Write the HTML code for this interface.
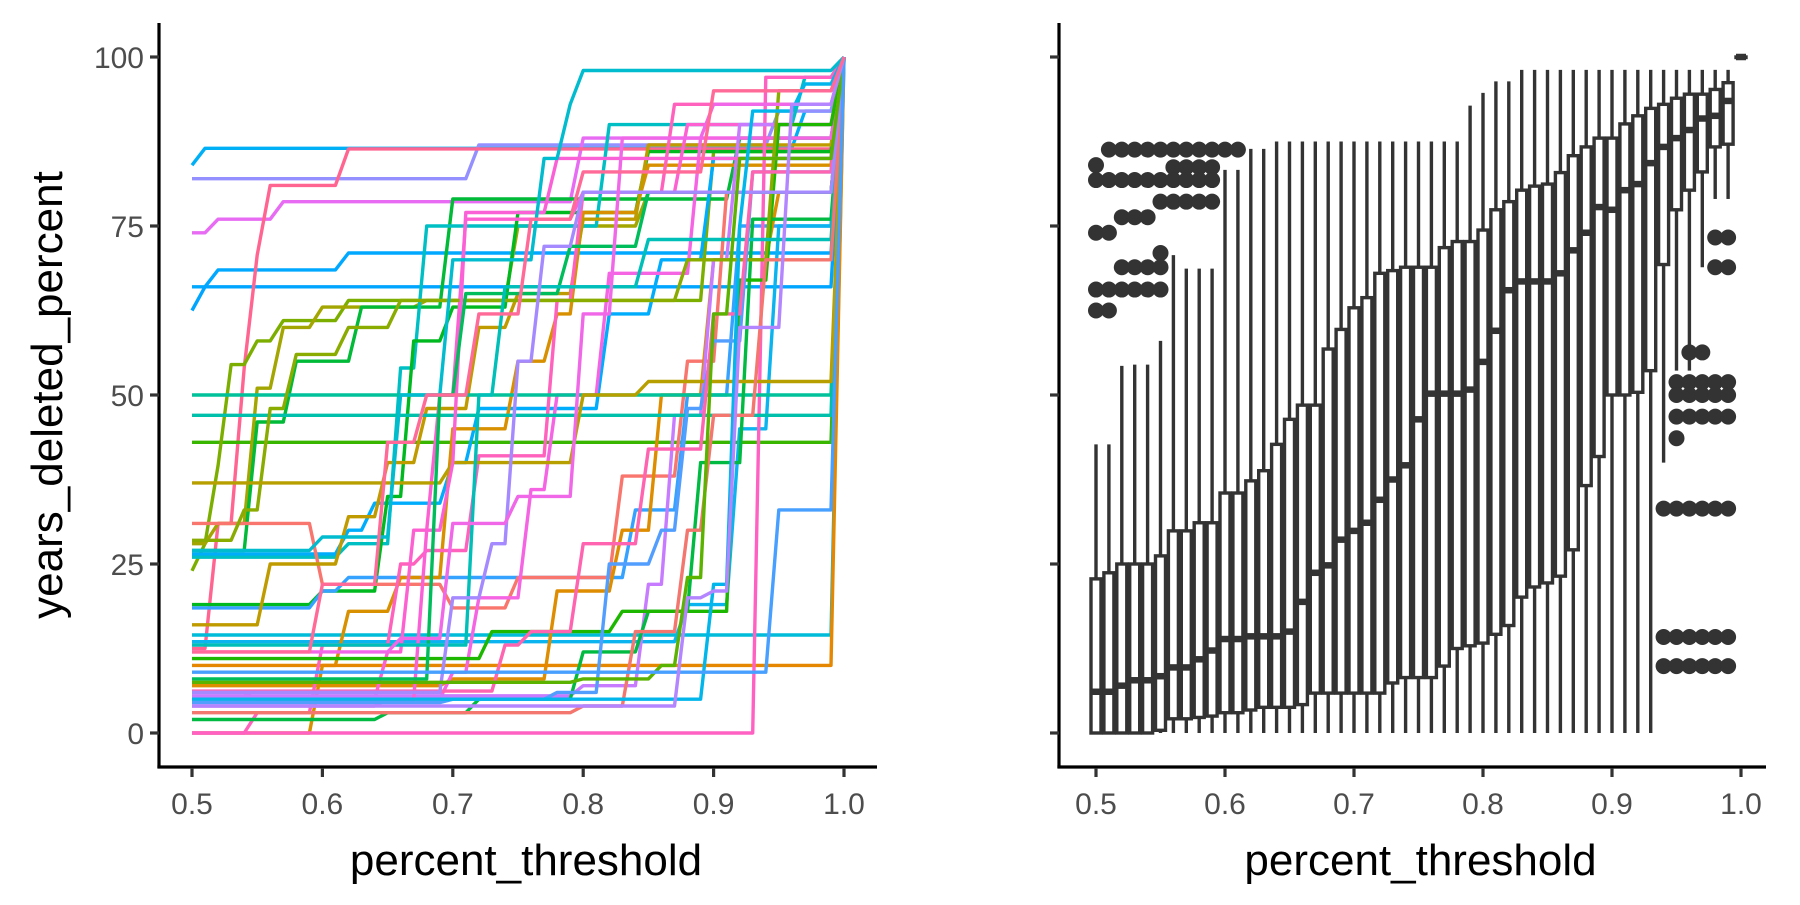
<!DOCTYPE html>
<html><head><meta charset="utf-8"><style>
body{margin:0;background:#fff}
svg text{font-family:"Liberation Sans",sans-serif}
</style></head><body>
<svg id="chart" width="1800" height="900" xmlns="http://www.w3.org/2000/svg">
<g id="left"></g>
<g id="right"></g>
</svg>
<script>
// ---- data ----
const thresholds = [];
for (let i = 0; i <= 50; i++) thresholds.push(+(0.5 + i * 0.01).toFixed(2));
const xTicks = [0.5, 0.6, 0.7, 0.8, 0.9, 1.0];
const xTickLabels = ["0.5", "0.6", "0.7", "0.8", "0.9", "1.0"];
const yTicks = [0, 25, 50, 75, 100];
const yTickLabels = ["0", "25", "50", "75", "100"];

const lineSteps = [
 [[.5,84],[.51,86.5],[.9,86.5],[.97,92]],
 [[.5,82],[.72,87],[.95,92]],
 [[.5,74],[.52,76],[.57,78.6],[.8,88]],
 [[.5,66],[.52,68.5],[.62,71]],
 [[.5,62.5],[.51,66]],
 [[.5,12.5],[.52,31],[.54,54],[.55,70.7],[.56,81],[.62,86.4]],
 [[.5,43]],
 [[.5,24],[.51,28],[.52,39.6],[.53,54.5],[.55,58],[.57,61],[.62,64],[.9,86]],
 [[.5,28],[.52,31],[.55,51],[.57,60],[.6,63],[.68,64],[.75,75],[.85,80]],
 [[.5,27],[.55,46],[.58,55],[.63,63],[.7,79],[.92,88]],
 [[.5,26],[.62,28],[.66,54],[.68,75],[.82,90],[.97,97]],
 [[.5,26.5],[.62,30],[.64,34],[.7,40],[.72,48],[.82,62],[.86,70],[.9,85]],
 [[.5,19],[.6,21],[.65,35],[.67,58],[.7,63],[.75,77],[.85,86]],
 [[.5,18.5],[.6,21],[.62,23],[.84,33],[.88,50],[.92,75]],
 [[.5,31],[.6,22],[.7,18.5],[.75,23],[.83,38],[.88,55],[.91,80]],
 [[.5,14.5]],
 [[.5,13.5],[.88,19],[.92,45],[.95,75]],
 [[.5,0],[.6,10],[.62,18],[.66,23],[.7,45],[.75,55],[.78,62],[.8,77],[.85,84]],
 [[.5,16],[.56,25],[.62,32],[.65,40],[.68,48],[.72,60],[.75,65],[.8,76],[.85,87]],
 [[.5,7],[.7,8],[.78,21],[.83,30],[.86,50],[.9,70],[.95,80]],
 [[.5,10]],
 [[.5,0],[.55,3],[.6,13],[.66,25],[.68,27],[.72,41],[.78,64],[.8,80],[.87,93]],
 [[.5,4],[.65,5],[.7,9],[.72,20],[.76,36],[.78,50],[.82,68],[.89,88]],
 [[.5,6],[.55,5],[.65,12],[.67,30],[.69,50],[.71,76],[.8,80],[.88,90]],
 [[.5,0],[.94,97]],
 [[.5,5.5],[.8,7],[.85,22],[.87,47],[.9,70],[.92,90]],
 [[.5,47]],
 [[.5,50]],
 [[.5,2],[.65,3],[.72,5],[.8,12],[.85,18],[.89,40],[.93,76]],
 [[.5,11],[.73,15],[.83,18],[.92,67],[.95,90]],
 [[.5,28.5],[.54,33],[.56,48],[.58,56],[.62,60],[.66,64],[.88,70],[.95,95]],
 [[.5,37],[.7,40],[.8,50],[.85,52]],
 [[.5,5],[.68,30],[.7,40],[.71,77],[.78,85]],
 [[.5,8],[.69,50],[.71,65],[.79,72],[.85,80]],
 [[.5,13],[.72,50],[.74,66],[.85,73]],
 [[.5,4.5],[.7,5],[.78,6],[.82,25],[.86,30],[.88,48],[.9,58],[.93,83]],
 [[.5,3],[.8,4],[.84,15],[.88,30],[.9,47],[.94,70]],
 [[.5,6.2],[.74,13],[.76,15],[.8,28],[.85,42],[.9,62],[.93,83]],
 [[.5,6],[.7,20],[.73,28],[.75,55],[.77,72],[.8,80]],
 [[.5,12],[.66,14],[.7,31],[.75,35],[.8,62],[.83,88],[.9,93]],
 [[.5,7.5],[.8,8],[.86,10],[.88,23],[.9,62],[.92,85]],
 [[.5,5],[.9,22],[.92,75],[.93,92],[.97,96]],
 [[.5,27],[.6,29],[.66,50],[.7,70],[.77,85],[.79,93],[.8,98]],
 [[.5,9],[.95,33]],
 [[.5,4],[.88,20],[.9,21],[.92,60],[.96,93]],
 [[.5,12],[.6,22],[.65,43],[.68,50],[.72,62],[.76,76],[.8,83],[.9,95]]
];
const lineColors = ["#00B0F6","#9590FF","#E76BF3","#00A9FF","#00A5FF","#FF6590","#39B600","#7CAE00","#A3A500","#00BA38","#00BFC4","#00ACFC","#00B81F","#35A2FF","#F8766D","#00BCD8","#0CB4EF","#D89000","#C09B00","#DE8C00","#E58700","#FF62BC","#F564E3","#FD61D1","#FF61C3","#C77CFF","#00BFAB","#00C19A","#00BA42","#1DB700","#8AAB00","#B79F00","#FB61D7","#00BD5C","#00BFB8","#529EFF","#F3766F","#FF64B0","#A58AFF","#F067E8","#5BB300","#00B6EB","#00BCCE","#479FFF","#B385FF","#FF6A98"];

const boxX = thresholds;
const boxLower = [0,0,0,0,0,0,0,0,0,0,0,0,0,0,0,0,0,0,0,0,0,0,0,0,0,0,0,0,0,0,0,0,0,0,0,0,0,0,0,0,0,0,0,0,40,53.6,53.6,68.9,79,79,100];
const boxQ1 = [0,0,0,0,0,0.4,2.1,2.1,2.3,2.5,3,3,3.4,3.8,3.8,3.8,4.2,5.9,5.9,5.9,5.9,5.9,5.9,7.4,8.2,8.2,8.2,9.9,12.5,12.9,13.3,14.6,15.9,20.1,21.6,22.2,23.2,27.1,36.6,40.9,50,50,50.4,53.6,69.3,77.4,80.3,83,86.7,87.1,100];
const boxMed = [6.1,6.1,7,7.8,7.8,8.4,9.7,9.7,10.9,12.2,13.9,13.9,14.3,14.3,14.3,15,19.4,23.7,24.8,28.6,29.9,31.1,34.5,37.5,39.6,46.4,50.2,50.2,50.2,50.8,54.9,59.5,65.5,66.8,66.8,66.8,68,71.4,74,77.8,77.4,80.3,81.2,84.3,86.7,88,89.2,90.9,91.3,93.5,100];
const boxQ3 = [22.8,23.7,25,25,25,26.2,29.9,29.9,31.1,31.1,35.5,35.5,37.3,38.8,42.7,46.4,48.5,48.5,56.8,59.7,62.9,64.4,68,68.4,68.9,68.9,68.9,71.8,72.7,72.7,74.4,77.4,78.6,80.3,80.9,81.2,82.9,85.4,86.7,88,88,90.1,91.3,92.4,93,93.9,94.5,94.5,95.2,96.2,100];
const boxUpper = [42.7,42.7,54.3,54.5,54.5,58,70.7,68.7,68.7,68.7,83.3,83.3,86.4,86.4,87.5,87.5,87.5,87.5,87.5,87.5,87.5,87.5,87.5,87.5,87.5,87.5,87.5,87.5,87.5,92.8,94.7,96.4,96.4,98.1,98.1,98.1,98.1,98.1,98.1,98.1,98.1,98.1,98.1,98.1,98.1,98.1,98.1,98.1,98.1,98.1,100];
const outlierIdx = [0,0,0,0,0, 1,1,1,1,1, 2,2,2,2,2, 3,3,3,3,3, 4,4,4,4,4, 5,5,5,5,5,5,
 6,6,6,6, 7,7,7,7, 8,8,8,8, 9,9,9,9, 10,11,
 44,44,44, 45,45,45,45,45,45,45, 46,46,46,46,46,46,46, 47,47,47,47,47,47,47, 48,48,48,48,48,48,48,48, 49,49,49,49,49,49,49,49];
const outlierVal = [84,81.8,74,65.6,62.5, 86.3,81.8,74,65.6,62.5, 86.3,81.8,76.3,68.9,65.6, 86.3,81.8,76.3,68.9,65.6, 86.3,81.8,76.3,68.9,65.6, 86.3,81.8,78.6,71,68.9,65.6,
 86.3,83.7,81.8,78.6, 86.3,83.7,81.8,78.6, 86.3,83.7,81.8,78.6, 86.3,83.7,81.8,78.6, 86.3,86.3,
 33.2,14.2,9.9, 51.9,50,46.8,43.6,33.2,14.2,9.9, 56.3,51.9,50,46.8,33.2,14.2,9.9, 56.3,51.9,50,46.8,33.2,14.2,9.9, 73.3,68.9,51.9,50,46.8,33.2,14.2,9.9, 73.3,68.9,51.9,50,46.8,33.2,14.2,9.9];

// ---- scales ----
const NS = "http://www.w3.org/2000/svg";
const yS = v => 733 - v * 6.76;
const xL = t => 192 + (t - 0.5) * 1304;
const xR = t => 1096 + (t - 0.5) * 1290;
function mk(parent, tag, attrs) {
  const e = document.createElementNS(NS, tag);
  for (const k in attrs) e.setAttribute(k, attrs[k]);
  parent.appendChild(e); return e;
}
const L = document.getElementById('left'), R = document.getElementById('right');

// left lines
lineSteps.forEach((steps, si) => {
  const pts = thresholds.map((t, i) => {
    let v;
    if (i === thresholds.length - 1) v = 100;
    else { v = steps[0][1]; for (const s of steps) if (t >= s[0] - 1e-9) v = s[1]; }
    return xL(t).toFixed(1) + "," + yS(v).toFixed(1);
  });
  const p = mk(L, 'polyline', {points: pts.join(" "), fill: "none", stroke: lineColors[si % lineColors.length], "stroke-width": 3.4, "stroke-linejoin": "round"});
  
  
});

// right boxplots
boxX.forEach((t, i) => {
  const cx = xR(t), w = 10;
  const g = mk(R, 'g', {});
  
  
  const st = {stroke: "#333", "stroke-width": 3.4, fill: "none"};
  mk(g, 'line', Object.assign({x1: cx, x2: cx, y1: yS(boxUpper[i]), y2: yS(boxQ3[i])}, st));
  mk(g, 'line', Object.assign({x1: cx, x2: cx, y1: yS(boxQ1[i]), y2: yS(boxLower[i])}, st));
  mk(g, 'rect', Object.assign({x: cx - w / 2, y: yS(boxQ3[i]), width: w, height: Math.max(0.5, yS(boxQ1[i]) - yS(boxQ3[i])), fill: "#fff"}, {stroke: "#333", "stroke-width": 3.4}));
  mk(g, 'line', {x1: cx - w / 2, x2: cx + w / 2, y1: yS(boxMed[i]), y2: yS(boxMed[i]), stroke: "#333", "stroke-width": 6.5});
});
outlierIdx.forEach((bi, k) => {
  const c = mk(R, 'circle', {cx: xR(boxX[bi]), cy: yS(outlierVal[k]), r: 8, fill: "#333"});
  
  
});

// axes
function axes(parent, x0, x1, xs, labels) {
  const ax = mk(parent, 'g', {});
  
  
  mk(ax, 'line', {x1: x0, x2: x0, y1: 23, y2: 768, stroke: "#000", "stroke-width": 3.2});
  mk(ax, 'line', {x1: x0 - 1.6, x2: x1, y1: 767, y2: 767, stroke: "#000", "stroke-width": 3.2});
  yTicks.forEach((v, i) => {
    mk(ax, 'line', {x1: x0 - 9, x2: x0, y1: yS(v), y2: yS(v), stroke: "#333", "stroke-width": 3.2});
    if (labels) {
      const t = mk(ax, 'text', {x: x0 - 15, y: yS(v) + 11, "text-anchor": "end", "font-size": 30, fill: "#4d4d4d"});
      t.textContent = yTickLabels[i];
      
      
    }
  });
  xTicks.forEach((v, i) => {
    mk(ax, 'line', {x1: xs(v), x2: xs(v), y1: 768, y2: 777, stroke: "#333", "stroke-width": 3.2});
    const t = mk(ax, 'text', {x: xs(v), y: 814, "text-anchor": "middle", "font-size": 30, fill: "#4d4d4d"});
    t.textContent = xTickLabels[i];
    
    
  });
  const tt = mk(ax, 'text', {x: (x0 + x1) / 2 + 8, y: 875, "text-anchor": "middle", "font-size": 44, fill: "#000"});
  tt.textContent = "percent_threshold";
  
  
}
axes(L, 159, 877, xL, true);
axes(R, 1059, 1766, xR, false);
const yt = mk(L, 'text', {x: 0, y: 0, transform: "translate(62,395) rotate(-90)", "text-anchor": "middle", "font-size": 44, fill: "#000"});
yt.textContent = "years_deleted_percent";


</script>
</body></html>
